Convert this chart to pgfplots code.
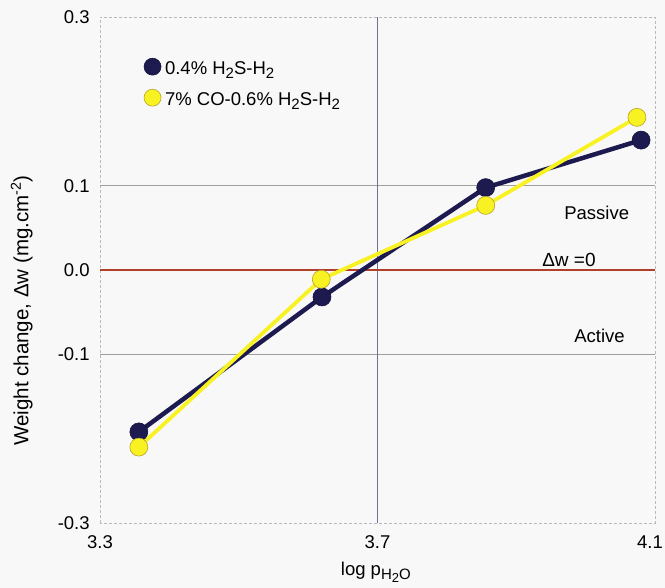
\documentclass[border=0pt]{standalone}
\usepackage{pgfplots}
\pgfplotsset{compat=1.18}
\usepackage{fontspec}
\setmainfont{Liberation Sans}
\definecolor{navy}{HTML}{1C1A4E}
\definecolor{yel}{HTML}{F8F222}
\definecolor{yelo}{HTML}{B8A22A}
\definecolor{redl}{HTML}{B0402A}
\definecolor{vline}{HTML}{70709E}
\definecolor{bg}{HTML}{F8F8F8}
\newcommand{\sub}[1]{\raisebox{-0.4ex}{\fontsize{15}{16}\selectfont #1}}
\begin{document}
\fontsize{18.5}{22}\selectfont
\begin{tikzpicture}[x=1pt,y=1pt]
\useasboundingbox (-100,-65) rectangle (565,523);
\fill[bg] (-100,-65) rectangle (565,523);
\begin{axis}[at={(0,0)}, anchor=south west, scale only axis, width=555pt, height=506pt,
  xmin=3.3, xmax=4.1, ymin=-0.3, ymax=0.3,
  xtick={3.3,3.7,4.1}, xticklabels={3.3,3.7,4.1\hspace*{10pt}},
  ytick={-0.3,-0.1,0,0.1,0.3}, yticklabels={-0.3,-0.1,0.0,0.1,0.3},
  tick style={draw=none},
  /pgf/number format/assume math mode=true,
  tick label style={font=\fontsize{18.5}{22}\selectfont},
  xticklabel style={yshift=-6pt},
  yticklabel style={xshift=-4pt},
  axis line style={gray!55, densely dashed},
  xlabel={log p\raisebox{-0.45ex}{\fontsize{15}{16}\selectfont H\raisebox{-0.35ex}{\fontsize{13}{14}\selectfont 2}O}},
  xlabel style={at={(axis description cs:0.497,-0.097)}, anchor=center, font=\fontsize{18.5}{22}\selectfont},
  ylabel={Weight change, Δw (mg.cm\textsuperscript{-2})},
  ylabel style={at={(axis description cs:-0.141,0.42)}, anchor=center, font=\fontsize{20.5}{22}\selectfont},
  legend style={at={(axis description cs:0.079,0.919)}, anchor=north west, draw=none, fill=none,
    font=\fontsize{18.5}{22}\selectfont, row sep=11pt, inner sep=0pt,
    nodes={inner xsep=4pt, inner ysep=0pt, anchor=west, text height=13pt, text depth=4pt}},
  legend cell align=left,
  legend image code/.code={\draw[#1] plot coordinates {(0pt,3pt)};},
  clip=false,
]
\addplot[gray!75, line width=0.8pt, forget plot] coordinates {(3.3,0.1) (4.1,0.1)};
\addplot[gray!75, line width=0.8pt, forget plot] coordinates {(3.3,-0.1) (4.1,-0.1)};
\addplot[vline, line width=0.8pt, forget plot] coordinates {(3.7,-0.3) (3.7,0.3)};
\addplot[redl, line width=1.3pt, forget plot] coordinates {(3.3,0) (4.1,0)};

\addlegendimage{only marks, mark=*, mark size=8.5pt, mark options={fill=navy, draw=navy!80!black, line width=0.6pt}}
\addlegendentry{0.4\% H\sub{2}S-H\sub{2}}
\addlegendimage{only marks, mark=*, mark size=8.5pt, mark options={fill=yel, draw=yelo, line width=0.6pt}}
\addlegendentry{7\% CO-0.6\% H\sub{2}S-H\sub{2}}

\addplot[navy, line width=4.5pt, mark=*, mark size=9pt, mark options={fill=navy, draw=navy!80!black, line width=0.6pt}, forget plot]
  coordinates {(3.356,-0.192) (3.620,-0.032) (3.856,0.0977) (4.080,0.154)};
\addplot[yel, line width=3.8pt, mark=*, mark size=9pt, mark options={fill=yel, draw=yelo, line width=0.6pt}, forget plot]
  coordinates {(3.356,-0.210) (3.619,-0.011) (3.856,0.0766) (4.074,0.181)};

\node[font=\fontsize{18.5}{22}\selectfont] at (axis cs:4.016,0.068) {Passive};
\node[font=\fontsize{19}{22}\selectfont] at (axis cs:3.976,0.012) {Δw =0};
\node[font=\fontsize{18.5}{22}\selectfont] at (axis cs:4.02,-0.078) {Active};
\end{axis}
\end{tikzpicture}
\end{document}
